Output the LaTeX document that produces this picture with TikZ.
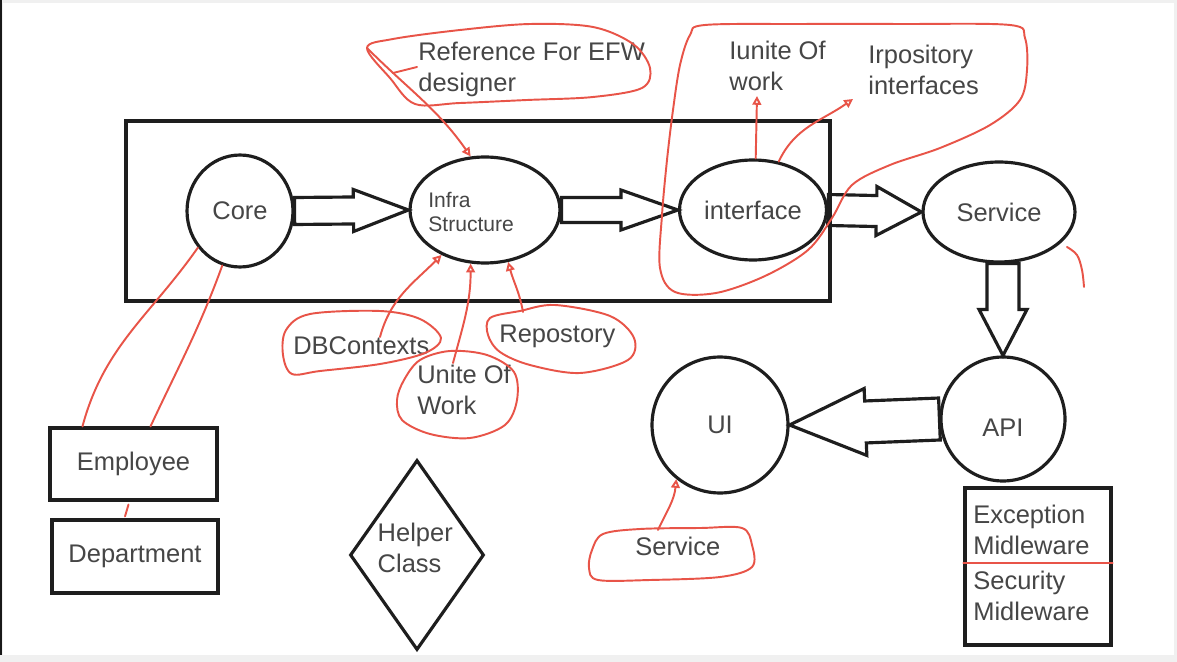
\documentclass[tikz,border=0pt]{standalone}
\usepackage{fontspec}
\setmainfont{Liberation Sans}
\usetikzlibrary{arrows.meta, shapes.geometric, calc}

\definecolor{ink}{RGB}{30,30,30}
\definecolor{txt}{RGB}{70,70,70}
\definecolor{pen}{RGB}{232,84,72}

% hollow block arrow: from, to, half shaft, half head, head length
\newcommand{\blockarrow}[5]{%
	\coordinate (ba-from) at (#1);
	\coordinate (ba-to) at (#2);
	\coordinate (ba-neck) at ($(ba-to)!#5!(ba-from)$);
	\draw[fat] ($(ba-from)!#3!90:(ba-to)$) -- ($(ba-neck)!#3!90:(ba-to)$) -- ($(ba-neck)!#4!90:(ba-to)$) -- (ba-to)
		-- ($(ba-neck)!#4!-90:(ba-to)$) -- ($(ba-neck)!#3!-90:(ba-to)$) -- ($(ba-from)!#3!-90:(ba-to)$) -- cycle;}

\begin{document}
\begin{tikzpicture}[x=0.02cm, y=0.02cm, >={Triangle[open, length=5pt, width=5pt]},
	font=\fontsize{14.5}{17.6}\selectfont, text=txt,
	bubble/.style={ellipse, draw=ink, line width=1.8pt, inner sep=0pt},
	ball/.style={circle, draw=ink, line width=1.8pt, inner sep=0pt},
	box/.style={rectangle, draw=ink, line width=1.8pt, inner sep=0pt},
	note/.style={anchor=west, align=left, inner sep=0pt},
	fat/.style={draw=ink, line width=1.8pt, line join=miter},
	scribble/.style={draw=pen, line width=1.1pt, line cap=round, line join=round}]

	\useasboundingbox (0,0) rectangle (1177,-662);
	\fill[black!6] (0,0) rectangle (1177,-662);
	\fill[white] (3,-3) rectangle (1174,-655);
	\draw[black!90, line width=1.5pt] (1,0) -- (1,-655);

	% layers
	\node[box, minimum width=14.08cm, minimum height=3.6cm]	(layer)	at (478,-211)	{};
	\node[bubble, minimum width=2.12cm, minimum height=2.24cm]	(core)	at (240,-211)	{Core};
	\node[bubble, minimum width=3.0cm, minimum height=2.12cm]	(infra)	at (485,-210)	{};
	\node[note, font=\fontsize{12}{14.2}\selectfont]	(infra-txt)	at (428,-212)	{Infra\\Structure};
	\node[bubble, minimum width=2.94cm, minimum height=2.0cm]	(iface)	at (753,-210)	{interface};
	\node[bubble, minimum width=3.04cm, minimum height=2.0cm]	(service)	at (999,-212)	{Service};
	\node[ball, minimum size=2.48cm, label={[yshift=-5pt]center:API}]	(api)	at (1003,-419)	{};
	\node[ball, minimum size=2.72cm]	(ui)	at (720,-425)	{UI};

	% models and helpers
	\node[box, minimum width=3.34cm, minimum height=1.44cm]	(employee)	at (133.5,-464)	{Employee};
	\node[box, minimum width=3.32cm, minimum height=1.46cm]	(department)	at (135,-556.5)	{Department};
	\node[diamond, draw=ink, line width=1.8pt, inner sep=0pt, minimum width=2.68cm, minimum height=3.8cm,
		label={[align=left, xshift=-1pt, yshift=4pt]center:Helper\\Class}]	(helper)	at (417,-555)	{};
	\node[box, minimum width=2.92cm, minimum height=3.14cm]	(mware)	at (1038,-566.5)	{};
	\node[note]	(mw-exc)	at (973,-529.5)	{Exception\\Midleware};
	\node[note]	(mw-sec)	at (973,-595.5)	{Security\\Midleware};

	% notes
	\node[note]	(ref)	at (418,-69)	{Reference For EFW\\designer};
	\node[note]	(iunit)	at (729,-66)	{Iunite Of\\work};
	\node[note]	(irepo)	at (868,-70)	{Irpository\\interfaces};
	\node[note]	(dbc)	at (293,-346)	{DBContexts};
	\node[note]	(repo)	at (499,-336)	{Repostory};
	\node[note]	(uow)	at (417,-390)	{Unite Of\\Work};
	\node[note]	(svc-note)	at (635,-546)	{Service};

	% flow
	\blockarrow{core.east}{infra.west}{0.27cm}{0.42cm}{1.1cm}
	\blockarrow{infra.east}{iface.west}{0.25cm}{0.4cm}{1.14cm}
	\blockarrow{iface.east}{service.west}{0.31cm}{0.49cm}{0.9cm}
	\blockarrow{api.north |- service.south}{api.north}{0.32cm}{0.48cm}{0.92cm}
	\blockarrow{api.west}{ui.east}{0.42cm}{0.67cm}{1.52cm}

	% red pen
	\coordinate (ref-tip)	at (367,-48);
	\coordinate (dbc-foot)	at (380,-337);
	\coordinate (uow-foot)	at (453,-363);
	\coordinate (repo-foot)	at (523,-312);
	\coordinate (iu-tip)	at (757,-96);
	\coordinate (ir-tip)	at (853,-99);
	\coordinate (svc-foot)	at (658,-530);

	\draw[scribble] plot[smooth cycle, tension=0.55] coordinates {(367,-48) (393,-39) (460,-30) (530,-24) (593,-27) (633,-44)
		(650,-68) (642,-88) (593,-97) (527,-100) (460,-103) (415,-104) (390,-78)};
	\draw[scribble] (393,-73) -- (417,-67);
	\draw[scribble] plot[smooth cycle, tension=0.55] coordinates {(705,-25) (800,-24) (900,-24) (1010,-25) (1025,-38) (1027,-70)
		(1020,-100) (990,-125) (940,-148) (890,-165) (852,-185) (832,-218) (808,-250) (765,-276) (716,-293) (675,-292)
		(660,-268) (662,-215) (667,-160) (673,-110) (680,-65) (690,-35)};
	\draw[scribble] plot[smooth cycle, tension=0.55] coordinates {(286,-330) (310,-314) (380,-311) (420,-319) (441,-338)
		(425,-353) (380,-364) (320,-371) (292,-374) (283,-355)};
	\draw[scribble] plot[smooth cycle, tension=0.55] coordinates {(420,-360) (450,-351) (487,-355) (514,-372) (517,-400)
		(505,-425) (470,-438) (430,-434) (402,-420) (397,-400) (404,-380)};
	\draw[scribble] plot[smooth cycle, tension=0.55] coordinates {(490,-318) (520,-311) (555,-305) (610,-316) (634,-338)
		(628,-360) (580,-373) (530,-365) (500,-352) (488,-335)};
	\draw[scribble] plot[smooth cycle, tension=0.55] coordinates {(592,-550) (603,-534) (640,-529) (700,-528) (742,-528)
		(752,-545) (752,-567) (720,-577) (650,-580) (598,-580) (589,-568)};
	\draw[scribble] plot[smooth, tension=0.6] coordinates {(1067,-247) (1077,-255) (1082,-270) (1084,-287)};

	\draw[scribble, ->] (ref-tip) to[out=-45, in=125] (infra.105);
	\draw[scribble, ->] (dbc-foot) to[out=75, in=225] (infra.226);
	\draw[scribble, ->] (uow-foot) to[out=75, in=270] (infra.255);
	\draw[scribble, ->] (repo-foot) to[out=100, in=285] (infra.294);
	\draw[scribble, ->] (iface.87) -- (iu-tip);
	\draw[scribble, ->] (iface.62) to[out=65, in=215] (ir-tip);
	\draw[scribble, ->] (svc-foot) to[out=65, in=265] (ui.231);
	\draw[scribble] (core.221) to[out=235, in=75] ($(employee.north west)!0.2!(employee.north east)$);
	\draw[scribble] (core.252) to[out=250, in=65] ($(employee.north west)!0.6!(employee.north east)$);
	\draw[scribble] ($(employee.south)+(-5,-3)$) -- ($(department.north)+(-10,2)$);
	\draw[scribble] ($(mware.west)+(0,3.5)$) -- ($(mware.east)+(0,3.5)$);
\end{tikzpicture}
\end{document}
